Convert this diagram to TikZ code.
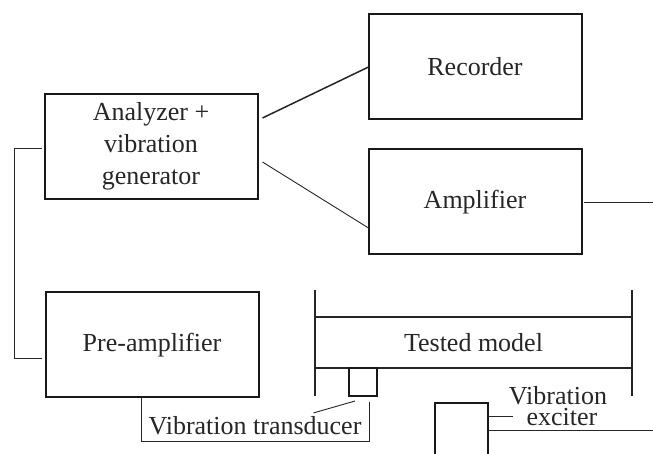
\documentclass[tikz,border=0pt]{standalone}
\usepackage{fontspec}
\setmainfont{Liberation Serif}
\usetikzlibrary{calc}

\begin{document}
\begin{tikzpicture}[x=1pt, y=1pt, every node/.style={font=\fontsize{26}{32}\selectfont, text=black!85, outer sep=0pt},
    unit/.style={draw=black!90, line width=2pt, minimum width=213pt, minimum height=105pt, inner sep=0pt, align=center},
    lead/.style={draw=black!85, line width=0.9pt}]
    \useasboundingbox (0,0) rectangle (653,454);
    % instruments
    \node[unit] (ana) at (151,307.5) {Analyzer +\\vibration\\generator};
    \node[unit] (rec) at (475,387) {Recorder};
    \node[unit] (amp) at (475,252) {Amplifier};
    \node[unit] (pre) at (152,109) {Pre-amplifier};
    % tested model with supports
    \node[minimum width=317pt, minimum height=51pt, inner sep=0pt] (mod) at (473.5,111.5) {Tested model};
    \draw[lead, line width=1.4pt] (mod.north west) -- (mod.north east);
    \draw[lead, line width=1.4pt] (mod.south west) -- (mod.south east);
    \draw[lead, line width=1.7pt] ([yshift=27pt]mod.north west) -- ([yshift=-28pt]mod.south west);
    \draw[lead, line width=1.7pt] ([yshift=27pt]mod.north east) -- ([yshift=-28pt]mod.south east);
    \node[draw=black!90, line width=1.4pt, minimum size=28pt, inner sep=0pt] (tra) at (363,72) {};
    \node[draw=black!90, line width=2pt, minimum width=53pt, minimum height=60pt, inner sep=0pt, anchor=north west] (exc) at (435,51) {};
    % labels
    \node[inner sep=0pt, anchor=base] (tlab) at (255,19) {Vibration transducer};
    \node[inner sep=0pt, anchor=base] (elab) at (558,49) {Vibration};
    \node[inner sep=0pt, anchor=base] (elabb) at (562,28) {exciter};
    \coordinate (ampout) at (653,252);
    \coordinate (excout) at (653,24);
    % connections
    \draw[lead, line width=1.5pt] ($(ana.east)+(5,28.5)$) -- (rec.west);
    \draw[lead] ($(ana.east)+(5,-15.5)$) -- ($(amp.west)+(0,-26)$);
    \draw[lead] ($(amp.east)+(2,0)$) -- (ampout);
    \draw[lead] ([xshift=-3pt,yshift=-1.5pt]ana.west) -- ++(-27,0) |- ([xshift=-4pt,yshift=-13pt]pre.west);
    \draw[lead] ([xshift=-11pt]pre.south) -- ++(0,-44) -| ([xshift=6pt,yshift=-6pt]tra.south);
    \draw[lead] ([xshift=-48pt,yshift=4pt]tlab.north east) -- ([xshift=-8pt,yshift=-5pt]tra.south);
    \draw[lead] ([yshift=-13pt]exc.north east) -- ++(25,0);
    \draw[lead] ([yshift=-27pt]exc.north east) -- (excout);
\end{tikzpicture}
\end{document}
